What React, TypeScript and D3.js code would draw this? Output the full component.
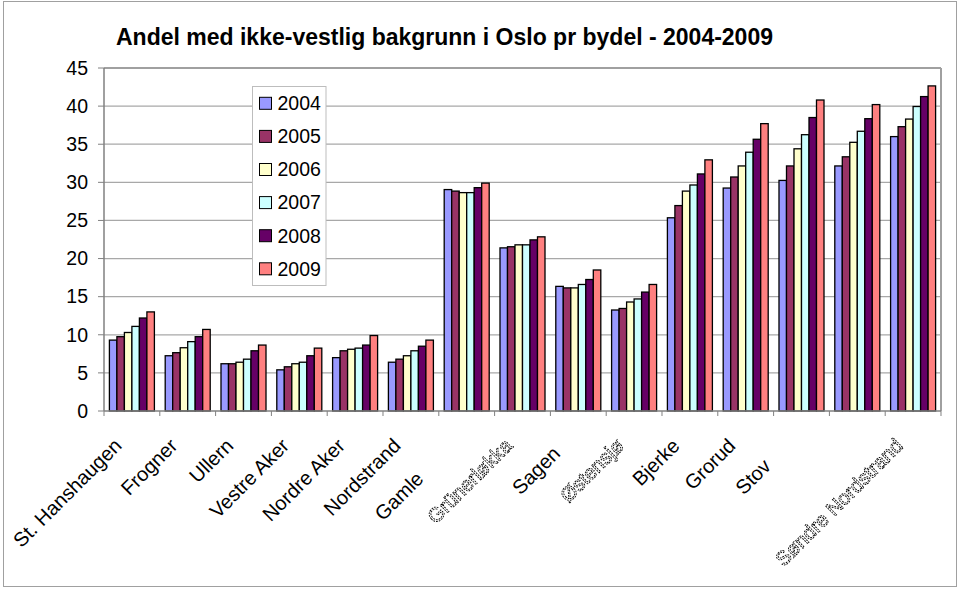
import React, { useEffect } from "react";
import * as d3 from "d3";

const title = "Andel med ikke-vestlig bakgrunn i Oslo pr bydel - 2004-2009";
const categories = [
  "St. Hanshaugen", "Frogner", "Ullern", "Vestre Aker", "Nordre Aker", "Nordstrand",
  "Gamle Oslo", "Grünerløkka", "Sagene", "Østensjø", "Bjerke", "Grorud", "Stovner",
  "Alna", "Søndre Nordstrand",
];
// the part of each label that is visible in the reference (the rest is cut off)
const shownLabels = [
  "St. Hanshaugen", "Frogner", "Ullern", "Vestre Aker", "Nordre Aker", "Nordstrand",
  "Gamle", "Grünerløkka", "Sagen", "Østensjø", "Bjerke", "Grorud", "Stov",
  "", "Søndre Nordstrand",
];
const years = ["2004", "2005", "2006", "2007", "2008", "2009"];
const v2004 = [9.3, 7.25, 6.2, 5.4, 7.0, 6.4, 29.05, 21.4, 16.35, 13.25, 25.35, 29.25, 30.25, 32.15, 36.0];
const v2005 = [9.75, 7.65, 6.2, 5.8, 7.9, 6.8, 28.85, 21.55, 16.15, 13.45, 26.95, 30.7, 32.15, 33.35, 37.3];
const v2006 = [10.3, 8.3, 6.4, 6.2, 8.1, 7.25, 28.65, 21.8, 16.15, 14.3, 28.85, 32.15, 34.4, 35.25, 38.3];
const v2007 = [11.1, 9.1, 6.8, 6.4, 8.25, 7.9, 28.65, 21.8, 16.6, 14.7, 29.65, 33.95, 36.25, 36.7, 39.95];
const v2008 = [12.2, 9.75, 7.9, 7.25, 8.65, 8.5, 29.3, 22.45, 17.25, 15.6, 31.1, 35.65, 38.5, 38.35, 41.25];
const v2009 = [13.0, 10.7, 8.65, 8.25, 9.9, 9.3, 29.9, 22.85, 18.5, 16.6, 32.95, 37.7, 40.8, 40.2, 42.65];
const yTicks = [0, 5, 10, 15, 20, 25, 30, 35, 40, 45];

const seriesValues = [v2004, v2005, v2006, v2007, v2008, v2009];
const colors = ["#9999FF", "#993366", "#FFFFCC", "#CCFFFF", "#660066", "#FF8080"];

const W = 960, H = 589;
const PL = 104, PR = 941, PT = 68, PB = 411;
const FONT = "'Liberation Sans', Arial, sans-serif";

export default function App() {
  useEffect(() => {
    document.body.style.margin = "0";
  }, []);

  const x = d3.scaleBand<string>().domain(categories).range([PL, PR])
    .paddingInner(0.1935).paddingOuter(0.0968);
  const xi = d3.scaleBand<string>().domain(years).range([0, x.bandwidth()]);
  const y = d3.scaleLinear().domain([0, 45]).range([PB, PT]);
  const step = x.step();

  return (
    <svg width={W} height={H} style={{ position: "absolute", left: 0, top: 0, background: "#fff" }}
      fontFamily={FONT}>
      <defs>
        <filter id="gray" x="-10%" y="-10%" width="120%" height="120%">
          <feColorMatrix type="saturate" values="0" />
        </filter>
      </defs>
      <rect x={3.5} y={1.5} width={953} height={585} fill="#fff" stroke="#a0a0a0" strokeWidth={1} />
      <text x={116} y={45} fontSize={23} fontWeight="bold" fill="#000">{title}</text>

      {/* gridlines */}
      {yTicks.filter(t => t > 0).map(t => (
        <line key={"g" + t} x1={PL} x2={PR} y1={y(t)} y2={y(t)} stroke="#a8a8a8" strokeWidth={1.2} />
      ))}
      {/* plot border top/right */}
      <line x1={PL} x2={PR} y1={PT} y2={PT} stroke="#a0a0a0" strokeWidth={2} />
      <line x1={PR} x2={PR} y1={PT} y2={PB} stroke="#a0a0a0" strokeWidth={2} />

      {/* bars */}
      {categories.map((c, ci) => (
        <g key={c} transform={`translate(${x(c)},0)`}>
          {years.map((yr, si) => {
            const v = seriesValues[si][ci];
            return (
              <rect key={yr} x={xi(yr)} y={y(v)} width={xi.bandwidth()} height={PB - y(v)}
                fill={colors[si]} stroke="#000" strokeWidth={1.3} />
            );
          })}
        </g>
      ))}

      {/* axes */}
      <line x1={PL} x2={PL} y1={PT} y2={PB} stroke="#808080" strokeWidth={1.5} />
      <line x1={PL} x2={PR} y1={PB} y2={PB} stroke="#808080" strokeWidth={1.5} />
      {yTicks.map(t => (
        <g key={"t" + t}>
          <line x1={PL - 6} x2={PL} y1={y(t)} y2={y(t)} stroke="#808080" strokeWidth={1} />
          <text x={88} y={y(t)} dy="0.35em" textAnchor="end" fontSize={19.5} fill="#000">{t}</text>
        </g>
      ))}
      {d3.range(categories.length + 1).map(i => (
        <line key={"ct" + i} x1={PL + i * step} x2={PL + i * step} y1={PB} y2={PB + 5}
          stroke="#808080" strokeWidth={1} />
      ))}

      {/* category labels */}
      {categories.map((c, ci) => {
        const cx = (x(c) as number) + x.bandwidth() / 2;
        const shown = shownLabels[ci];
        const hidden = c.slice(shown.length);
        const outlined = /[^\x00-\x7F]/.test(c);
        const ax = cx - 9, ay = 447;
        return (
          <g key={"l" + c} filter={outlined ? "url(#gray)" : undefined}>
            <text x={ax} y={ay} textAnchor="end" fontSize={20}
              transform={`rotate(-45,${ax},${ay})`}
              fill={outlined ? "#fff" : "#000"}
              stroke={outlined ? "#000" : "none"}
              strokeWidth={outlined ? 0.9 : 0}
              strokeDasharray={outlined ? "1.8,1" : undefined}>
              <tspan>{shown}</tspan>
              {hidden && <tspan fill="none" stroke="none">{hidden}</tspan>}
            </text>
          </g>
        );
      })}

      {/* legend */}
      <rect x={252.5} y={86.5} width={73.5} height={199} fill="#fff" stroke="#bdbdbd" strokeWidth={1} />
      {years.map((yr, si) => {
        const cy = 103.3 + si * 33.1;
        return (
          <g key={"lg" + yr}>
            <rect x={259.5} y={cy - 6} width={12} height={12} fill={colors[si]} stroke="#000" strokeWidth={1} />
            <text x={277.5} y={cy} dy="0.35em" fontSize={19.5} fill="#000">{yr}</text>
          </g>
        );
      })}
    </svg>
  );
}
